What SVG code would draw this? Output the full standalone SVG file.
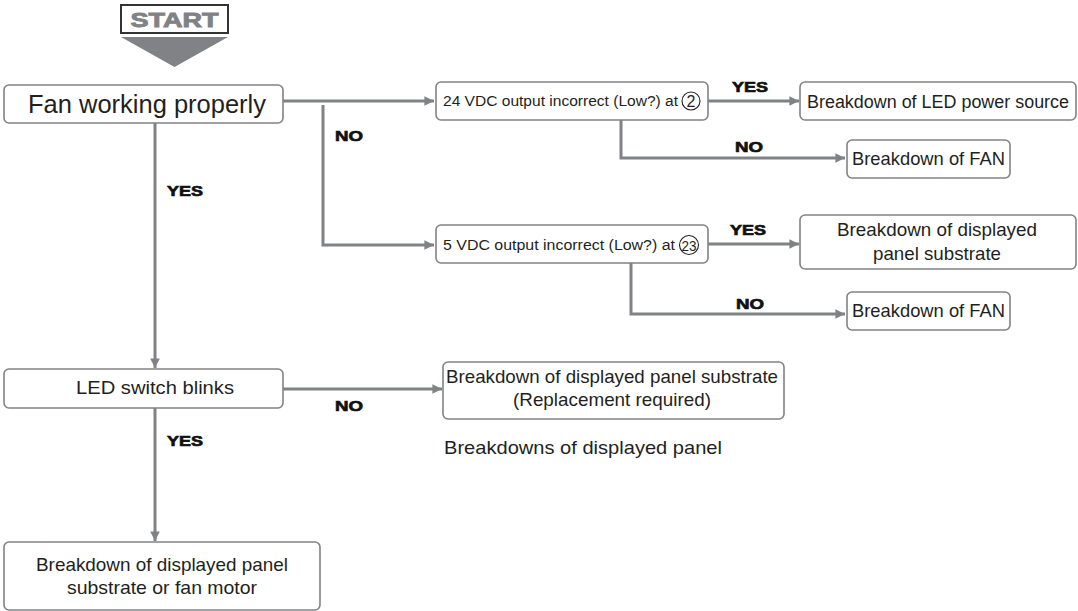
<svg xmlns="http://www.w3.org/2000/svg" width="1078" height="611" viewBox="0 0 1078 611">
<style>
.box{fill:#fff;stroke:#808285;stroke-width:1.6}
.t{font-family:"Liberation Sans",Arial,sans-serif;fill:#231f20}
.lbl{font-family:"Liberation Sans",Arial,sans-serif;font-weight:bold;font-size:15.5px;fill:#111;stroke:#111;stroke-width:0.7}
.ln{fill:none;stroke:#808285;stroke-width:3}
.circ{fill:none;stroke:#231f20;stroke-width:1.1}
</style>
<defs>
<marker id="ah" viewBox="0 0 10 10" refX="10" refY="5" markerWidth="3.2" markerHeight="3.2" markerUnits="strokeWidth" orient="auto">
<path d="M0,0 L10,5 L0,10 Z" fill="#808285"/>
</marker>
</defs>
<rect width="1078" height="611" fill="#fff"/>

<g id="start">
<rect x="121" y="5" width="107" height="28" fill="#fff" stroke="#333" stroke-width="2"/>
<text x="174.5" y="27" text-anchor="middle" font-family="Liberation Sans,Arial,sans-serif" font-weight="bold" font-size="21" fill="#808285" stroke="#808285" stroke-width="0.9" textLength="88" lengthAdjust="spacingAndGlyphs">START</text>
<path d="M121,37 L228,37 L174.5,67 Z" fill="#808285"/>
</g>

<g id="connectors">
<path class="ln" d="M283,101 L434,101" marker-end="url(#ah)"/>
<path class="ln" d="M323,105 L323,245 L434,245" marker-end="url(#ah)"/>
<path class="ln" d="M708,101 L799,101" marker-end="url(#ah)"/>
<path class="ln" d="M621,120 L621,158 L845,158" marker-end="url(#ah)"/>
<path class="ln" d="M708,244 L799,244" marker-end="url(#ah)"/>
<path class="ln" d="M631,263 L631,314 L845,314" marker-end="url(#ah)"/>
<path class="ln" d="M155,123 L155,368" marker-end="url(#ah)"/>
<path class="ln" d="M283,389 L442,389" marker-end="url(#ah)"/>
<path class="ln" d="M155,408 L155,541" marker-end="url(#ah)"/>
<text class="lbl" x="335" y="141" textLength="28" lengthAdjust="spacingAndGlyphs">NO</text>
<text class="lbl" x="167" y="196" textLength="36" lengthAdjust="spacingAndGlyphs">YES</text>
<text class="lbl" x="732" y="92" textLength="36" lengthAdjust="spacingAndGlyphs">YES</text>
<text class="lbl" x="735" y="152" textLength="28" lengthAdjust="spacingAndGlyphs">NO</text>
<text class="lbl" x="730" y="235" textLength="36" lengthAdjust="spacingAndGlyphs">YES</text>
<text class="lbl" x="736" y="309" textLength="28" lengthAdjust="spacingAndGlyphs">NO</text>
<text class="lbl" x="335" y="411" textLength="28" lengthAdjust="spacingAndGlyphs">NO</text>
<text class="lbl" x="167" y="446" textLength="36" lengthAdjust="spacingAndGlyphs">YES</text>
</g>

<g id="fan">
<rect class="box" x="4" y="85" width="279" height="38" rx="5"/>
<text class="t" x="147" y="113" font-size="25" text-anchor="middle" textLength="238" lengthAdjust="spacingAndGlyphs">Fan working properly</text>
</g>

<g id="vdc24">
<rect class="box" x="436" y="82" width="272" height="38" rx="5"/>
<text class="t" x="443" y="106" font-size="14" textLength="235" lengthAdjust="spacingAndGlyphs">24 VDC output incorrect (Low?) at</text>
<circle class="circ" cx="691" cy="101" r="9"/>
<text class="t" x="691" y="107" font-size="16" text-anchor="middle">2</text>
</g>

<g id="ledpower">
<rect class="box" x="800" y="82" width="276" height="38" rx="5"/>
<text class="t" x="938" y="108" font-size="18" text-anchor="middle" textLength="262" lengthAdjust="spacingAndGlyphs">Breakdown of LED power source</text>
</g>

<g id="fan1">
<rect class="box" x="847" y="140" width="163" height="38" rx="5"/>
<text class="t" x="928.5" y="165" font-size="19" text-anchor="middle" textLength="153" lengthAdjust="spacingAndGlyphs">Breakdown of FAN</text>
</g>

<g id="vdc5">
<rect class="box" x="436" y="225" width="272" height="38" rx="5"/>
<text class="t" x="443" y="250" font-size="14" textLength="232" lengthAdjust="spacingAndGlyphs">5 VDC output incorrect (Low?) at</text>
<circle class="circ" cx="689" cy="245" r="9.5"/>
<text class="t" x="689" y="251" font-size="15" text-anchor="middle" textLength="15" lengthAdjust="spacingAndGlyphs">23</text>
</g>

<g id="panel1">
<rect class="box" x="800" y="215" width="276" height="54" rx="5"/>
<text class="t" x="937" y="236" font-size="19" text-anchor="middle" textLength="200" lengthAdjust="spacingAndGlyphs">Breakdown of displayed</text>
<text class="t" x="937" y="260" font-size="19" text-anchor="middle" textLength="128" lengthAdjust="spacingAndGlyphs">panel substrate</text>
</g>

<g id="fan2">
<rect class="box" x="847" y="292" width="163" height="38" rx="5"/>
<text class="t" x="928.5" y="317" font-size="19" text-anchor="middle" textLength="153" lengthAdjust="spacingAndGlyphs">Breakdown of FAN</text>
</g>

<g id="led">
<rect class="box" x="4" y="369" width="279" height="39" rx="5"/>
<text class="t" x="155" y="394" font-size="19" text-anchor="middle" textLength="158" lengthAdjust="spacingAndGlyphs">LED switch blinks</text>
</g>

<g id="panel2">
<rect class="box" x="443" y="362" width="341" height="57" rx="5"/>
<text class="t" x="612" y="383" font-size="19" text-anchor="middle" textLength="332" lengthAdjust="spacingAndGlyphs">Breakdown of displayed panel substrate</text>
<text class="t" x="612" y="406" font-size="19" text-anchor="middle" textLength="198" lengthAdjust="spacingAndGlyphs">(Replacement required)</text>
</g>

<g id="caption">
<text class="t" x="444" y="454" font-size="19" textLength="278" lengthAdjust="spacingAndGlyphs">Breakdowns of displayed panel</text>
</g>

<g id="panel3">
<rect class="box" x="4" y="542" width="316" height="68" rx="5"/>
<text class="t" x="162" y="571" font-size="19" text-anchor="middle" textLength="252" lengthAdjust="spacingAndGlyphs">Breakdown of displayed panel</text>
<text class="t" x="162" y="594" font-size="19" text-anchor="middle" textLength="190" lengthAdjust="spacingAndGlyphs">substrate or fan motor</text>
</g>
</svg>
